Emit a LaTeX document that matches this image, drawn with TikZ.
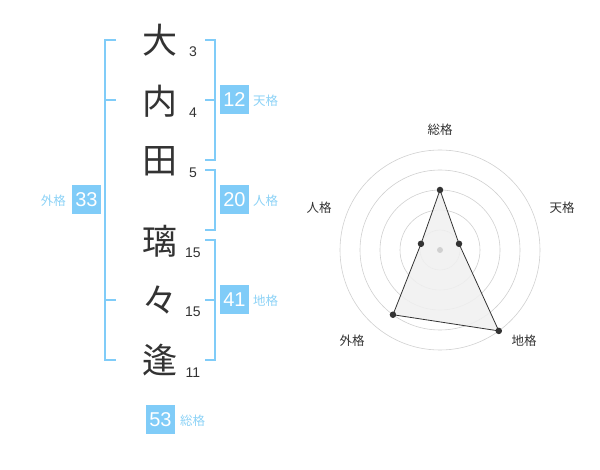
\documentclass[tikz,border=0pt]{standalone}
\usepackage{fontspec}
\setmainfont{Liberation Sans}
\newfontfamily\cjk{Noto Sans CJK JP}
\definecolor{boxblue}{RGB}{128,204,248}
\definecolor{lblblue}{RGB}{140,210,246}
\definecolor{ink}{RGB}{51,51,51}
\definecolor{ringgray}{RGB}{208,208,208}
\definecolor{areagray}{RGB}{240,240,240}
\tikzset{
  kanji/.style={font=\cjk\fontsize{35}{35}\selectfont, text=ink, inner sep=0pt},
  strokes/.style={font=\fontsize{14}{14}\selectfont, text=ink, inner sep=0pt},
  valbox/.style={fill=boxblue, text=white, minimum width=29pt, minimum height=29pt, inner sep=0pt, font=\fontsize{20}{20}\selectfont},
  grlabel/.style={font=\cjk\fontsize{12.5}{12.5}\selectfont, text=lblblue, inner sep=0pt},
  bracket/.style={draw=boxblue, line width=2pt},
  ring/.style={draw=ringgray, line width=0.6pt},
  axlabel/.style={font=\cjk\fontsize{12.5}{12.5}\selectfont, text=ink, inner sep=0pt},
  dot/.style={circle, fill=ink, minimum size=6.5pt, inner sep=0pt},
}
\begin{document}
\begin{tikzpicture}[x=1pt,y=-1pt]
\useasboundingbox (0,0) rectangle (600,470);
% characters
\node[kanji] (c1) at (160,40) {大};
\node[kanji] (c2) at (160,101) {内};
\node[kanji] (c3) at (160,161) {田};
\node[kanji] (c4) at (160,241) {璃};
\node[kanji] (c5) at (160,300) {々};
\node[kanji] (c6) at (160,360) {逢};
% stroke counts
\node[strokes] (s1) at (193,52) {3};
\node[strokes] (s2) at (193,113) {4};
\node[strokes] (s3) at (193,173) {5};
\node[strokes] (s4) at (193,253) {15};
\node[strokes] (s5) at (193,312) {15};
\node[strokes] (s6) at (193,373) {11};
% brackets
\draw[bracket] (116,40) -- (105,40) -- (105,360) -- (116,360);
\draw[bracket] (105,100) -- (116,100);
\draw[bracket] (105,300) -- (116,300);
\draw[bracket] (205,40) -- (215,40) -- (215,160) -- (205,160);
\draw[bracket] (205,100) -- (215,100);
\draw[bracket] (205,170) -- (215,170) -- (215,230) -- (205,230);
\draw[bracket] (205,240) -- (215,240) -- (215,360) -- (205,360);
\draw[bracket] (205,300) -- (215,300);
% value boxes
\node[valbox] (ten) at (234.5,100) {12};
\node[grlabel, anchor=west] (tenl) at (253,101) {天格};
\node[valbox] (jin) at (234.5,200) {20};
\node[grlabel, anchor=west] (jinl) at (253,201) {人格};
\node[valbox] (chi) at (234.5,300) {41};
\node[grlabel, anchor=west] (chil) at (253,301) {地格};
\node[valbox] (gai) at (86.5,200) {33};
\node[grlabel, anchor=east] (gail) at (66,201) {外格};
\node[valbox] (sou) at (160.5,419.5) {53};
\node[grlabel, anchor=west] (soul) at (180,421) {総格};
% radar
\begin{scope}[shift={(440,250)}, yscale=-1]
  \foreach \r in {20,40,60,80,100} \draw[ring] (0,0) circle (\r);
  \coordinate (p1) at (90:60);
  \coordinate (p2) at (18:20);
  \coordinate (p3) at (-54:100);
  \coordinate (p4) at (-126:80);
  \coordinate (p5) at (162:20);
  \fill[areagray, opacity=0.85] (p1) -- (p2) -- (p3) -- (p4) -- (p5) -- cycle;
  \draw[ink, line width=0.8pt] (p1) -- (p2) -- (p3) -- (p4) -- (p5) -- cycle;
  \node[circle, fill=ringgray, minimum size=6pt, inner sep=0pt] (ctr) at (0,0) {};
  \foreach \p in {p1,p2,p3,p4,p5} \node[dot] at (\p) {};
\end{scope}
\node[axlabel] (a1) at (440,130) {総格};
\node[axlabel] (a2) at (562,208) {天格};
\node[axlabel] (a3) at (524,341) {地格};
\node[axlabel] (a4) at (352,341) {外格};
\node[axlabel] (a5) at (319,208) {人格};
\end{tikzpicture}
\end{document}
